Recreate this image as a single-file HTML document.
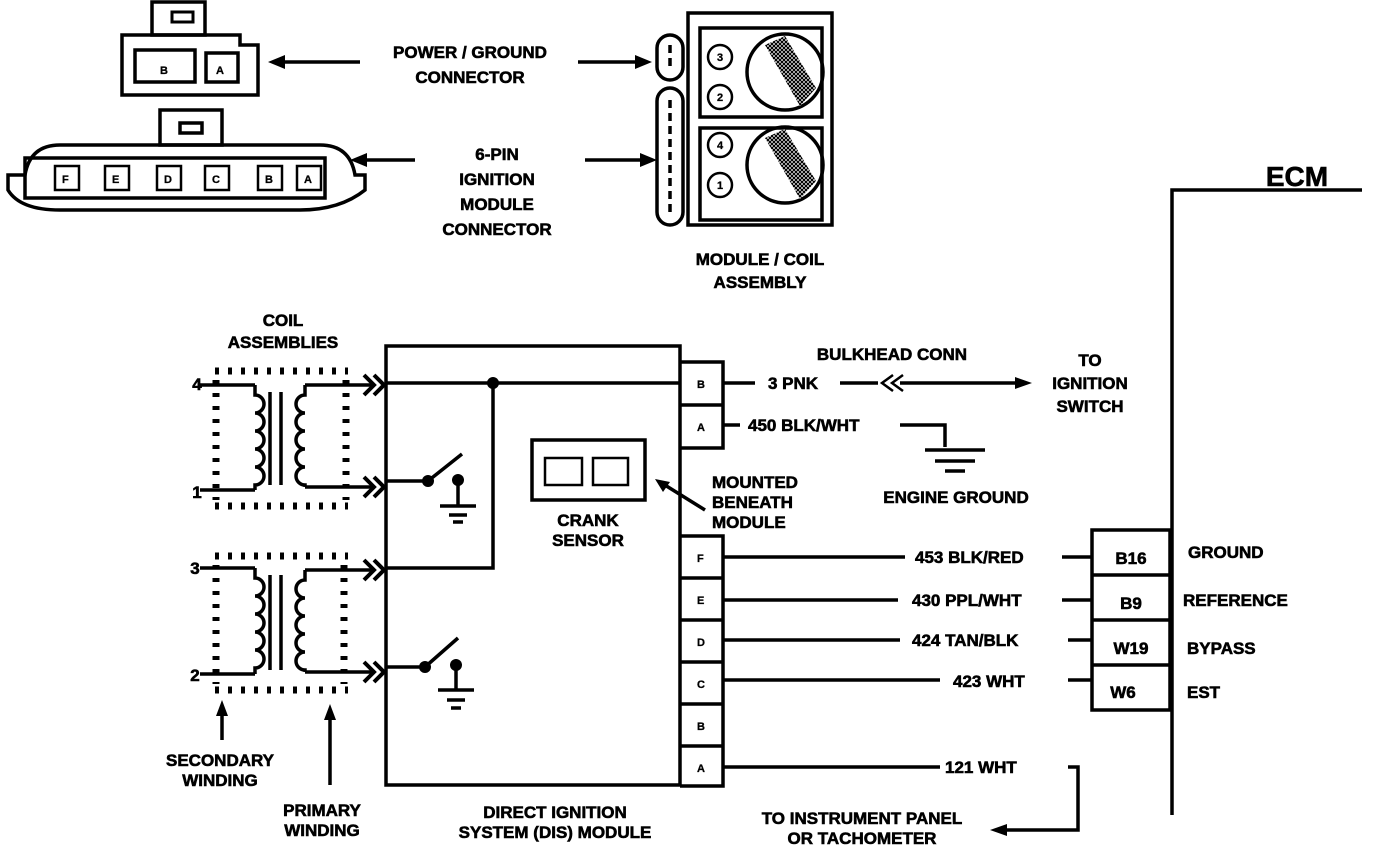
<!DOCTYPE html>
<html><head><style>html,body{margin:0;padding:0;background:#fff}svg{display:block}</style></head>
<body>
<svg width="1376" height="848" viewBox="0 0 1376 848" xmlns="http://www.w3.org/2000/svg" font-family="Liberation Sans, sans-serif" font-weight="bold" fill="none" stroke="#000">
<defs>
<pattern id="h" width="4" height="4" patternUnits="userSpaceOnUse"><rect width="4" height="4" fill="#fff" stroke="none"/><path d="M0 0L4 4M4 0L0 4" stroke="#000" stroke-width="1.2"/></pattern>
</defs>
<g stroke-width="3.5">
<rect x="152" y="2" width="53" height="33"/><rect x="172" y="12" width="21" height="10" stroke-width="3"/>
<path d="M122 35H240V45H258V95H122Z"/>
<rect x="135" y="50" width="60" height="32"/><rect x="206" y="53" width="32" height="29"/>
<rect x="160" y="110" width="62" height="35"/><rect x="180" y="123" width="22" height="10"/>
<path d="M8 190V175H25Q30 145 60 145H320Q350 145 355 175H365V190Q340 210 300 210H60Q20 210 8 190Z"/>
<rect x="25" y="158" width="300" height="40"/>
<g stroke-width="2.5"><rect x="55" y="166" width="24" height="24"/><rect x="105" y="166" width="24" height="24"/><rect x="157" y="166" width="24" height="24"/><rect x="205" y="166" width="24" height="24"/><rect x="258" y="166" width="24" height="24"/><rect x="297" y="166" width="24" height="24"/></g>
<path d="M360 62H275"/><path d="M415 160H358"/><path d="M578 62H640"/><path d="M585 160H645"/>
<rect x="688" y="13" width="144" height="212"/><rect x="700" y="28" width="122" height="89"/><rect x="700" y="128" width="122" height="92"/>
<rect x="657" y="35" width="26" height="45" rx="13"/><rect x="657" y="88" width="26" height="137" rx="13"/>
<path d="M670 45V70M670 100V215" stroke-dasharray="8 5"/>
<g stroke-width="2.5"><circle cx="720" cy="57" r="12"/><circle cx="720" cy="97" r="12"/><circle cx="720" cy="145" r="12"/><circle cx="720" cy="185" r="12"/></g>
<circle cx="785" cy="72" r="38"/><circle cx="785" cy="165" r="38"/>
<path d="M765 45L785 36L816 88L800 106Z" fill="url(#h)" stroke="none"/>
<path d="M765 138L785 129L816 181L800 199Z" fill="url(#h)" stroke="none"/>
<rect x="386" y="346" width="294" height="439"/>
<path d="M680 362H723V448H680M680 405H723"/>
<path d="M680 536H723V786H680M680 578H723M680 620H723M680 662H723M680 704H723M680 746H723"/>
<path d="M386 383H680M493 383V568H386M386 481H428M386 667H425"/>
<path d="M428 481L462 454M425 667L458 638M458 480V505M456 665V690M440 506H476M449 515H467M453 522H463M438 690H474M447 700H465M451 708H461"/>
<rect x="532" y="440" width="113" height="60"/><rect x="545" y="458" width="37" height="27" stroke-width="2.5"/><rect x="593" y="458" width="35" height="27" stroke-width="2.5"/>
<path d="M705 510L660 482"/>
<path d="M723 383H755M840 383H878M900 383H1025M723 425H740M900 425H945V447M925 450H985M935 461H975M945 471H965"/>
<path d="M893 375L882 383L893 391M903 375L892 383L903 391" stroke-width="2.5"/>
<path d="M723 557H905M1062 557H1092M723 600H898M1062 600H1092M723 640H900M1068 640H1092M723 680H940M1068 680H1092M723 767H940M1068 767H1078V830H1000"/>
<path d="M1092 530H1170V710H1092ZM1092 575H1170M1092 620H1170M1092 665H1170"/>
<path d="M1172 815V190H1362"/>
<g stroke-dasharray="4 9" stroke-width="7"><path d="M215 371H348M215 506H348M216 380V500M346 380V500M215 556H348M215 690H348M216 565V684M344 565V684"/></g>
<path d="M200 385H255M200 490H255M270 392V485M281 392V485M305 385H375M305 487H375M200 568H255M200 674H255M270 575V670M281 575V670M305 570H375M305 672H375"/>
<path d="M255 385V395a9 9 0 0 1 0 18a9 9 0 0 1 0 18a9 9 0 0 1 0 18a9 9 0 0 1 0 18a9 9 0 0 1 0 18V490"/>
<path d="M305 385V395a9 9 0 0 0 0 18a9 9 0 0 0 0 18a9 9 0 0 0 0 18a9 9 0 0 0 0 18a9 9 0 0 0 0 18V487"/>
<path d="M255 568V578a9 9 0 0 1 0 18a9 9 0 0 1 0 18a9 9 0 0 1 0 18a9 9 0 0 1 0 18a9 9 0 0 1 0 18V674"/>
<path d="M305 570V580a9 9 0 0 0 0 18a9 9 0 0 0 0 18a9 9 0 0 0 0 18a9 9 0 0 0 0 18a9 9 0 0 0 0 18V672"/>
<g stroke-width="4"><path d="M364 375L374 385L364 395M374 375L384 385L374 395M364 477L374 487L364 497M374 477L384 487L374 497M364 560L374 570L364 580M374 560L384 570L374 580M364 662L374 672L364 682M374 662L384 672L374 682"/></g>
<path d="M222 740V708M330 785V712"/>
</g>
<g fill="#000" stroke="none">
<circle cx="493" cy="383" r="6"/><circle cx="428" cy="481" r="6"/><circle cx="458" cy="480" r="6"/><circle cx="425" cy="667" r="6"/><circle cx="456" cy="665" r="6"/>
<path d="M268 62L285 55V69Z"/><path d="M350 160L367 153V167Z"/><path d="M652 62L635 55V69Z"/><path d="M657 160L640 153V167Z"/>
<path d="M1032 383L1015 377V389Z"/><path d="M990 830L1007 824V836Z"/><path d="M655 479L670 482L663 492Z"/>
<path d="M222 700L216 716H228Z"/><path d="M330 704L324 720H336Z"/>
</g>
<g fill="#000" stroke="#000" stroke-width="0.6" font-size="17">
<text x="470" y="58" text-anchor="middle">POWER / GROUND</text>
<text x="470" y="83" text-anchor="middle">CONNECTOR</text>
<text x="497" y="160" text-anchor="middle">6-PIN</text>
<text x="497" y="185" text-anchor="middle">IGNITION</text>
<text x="497" y="210" text-anchor="middle">MODULE</text>
<text x="497" y="235" text-anchor="middle">CONNECTOR</text>
<text x="760" y="265" text-anchor="middle">MODULE / COIL</text>
<text x="760" y="288" text-anchor="middle">ASSEMBLY</text>
<text x="283" y="326" text-anchor="middle">COIL</text>
<text x="283" y="348" text-anchor="middle">ASSEMBLIES</text>
<text x="197" y="390" text-anchor="middle">4</text><text x="197" y="498" text-anchor="middle">1</text>
<text x="195" y="574" text-anchor="middle">3</text><text x="195" y="681" text-anchor="middle">2</text>
<text x="220" y="766" text-anchor="middle">SECONDARY</text><text x="220" y="786" text-anchor="middle">WINDING</text>
<text x="322" y="816" text-anchor="middle">PRIMARY</text><text x="322" y="836" text-anchor="middle">WINDING</text>
<text x="555" y="818" text-anchor="middle">DIRECT IGNITION</text><text x="555" y="838" text-anchor="middle">SYSTEM (DIS) MODULE</text>
<text x="588" y="526" text-anchor="middle">CRANK</text><text x="588" y="546" text-anchor="middle">SENSOR</text>
<text x="712" y="488">MOUNTED</text><text x="712" y="508">BENEATH</text><text x="712" y="528">MODULE</text>
<text x="892" y="360" text-anchor="middle">BULKHEAD CONN</text>
<text x="768" y="389">3 PNK</text>
<text x="1090" y="366" text-anchor="middle">TO</text><text x="1090" y="389" text-anchor="middle">IGNITION</text><text x="1090" y="412" text-anchor="middle">SWITCH</text>
<text x="748" y="431">450 BLK/WHT</text>
<text x="956" y="503" text-anchor="middle">ENGINE GROUND</text>
<text x="915" y="563">453 BLK/RED</text>
<text x="912" y="606">430 PPL/WHT</text>
<text x="912" y="646">424 TAN/BLK</text>
<text x="953" y="687">423  WHT</text>
<text x="945" y="773">121 WHT</text>
<text x="862" y="824" text-anchor="middle">TO INSTRUMENT PANEL</text>
<text x="862" y="844" text-anchor="middle">OR TACHOMETER</text>
<text x="1131" y="564" text-anchor="middle">B16</text><text x="1131" y="609" text-anchor="middle">B9</text>
<text x="1131" y="654" text-anchor="middle">W19</text><text x="1123" y="698" text-anchor="middle">W6</text>
<text x="1188" y="558">GROUND</text><text x="1183" y="606">REFERENCE</text><text x="1187" y="654">BYPASS</text><text x="1187" y="698">EST</text>
<text x="1297" y="186" text-anchor="middle" font-size="28">ECM</text>
<g font-size="11" stroke-width="0.3"><text x="160" y="74">B</text><text x="216" y="74">A</text>
<text x="62" y="183">F</text><text x="112" y="183">E</text><text x="164" y="183">D</text><text x="212" y="183">C</text><text x="265" y="183">B</text><text x="304" y="183">A</text>
<text x="720" y="61" text-anchor="middle">3</text><text x="720" y="101" text-anchor="middle">2</text><text x="720" y="149" text-anchor="middle">4</text><text x="720" y="189" text-anchor="middle">1</text>
<text x="697" y="388">B</text><text x="697" y="431">A</text><text x="697" y="562">F</text><text x="697" y="604">E</text><text x="697" y="646">D</text><text x="697" y="688">C</text><text x="697" y="730">B</text><text x="697" y="772">A</text></g>
</g>
</svg>
</body></html>
